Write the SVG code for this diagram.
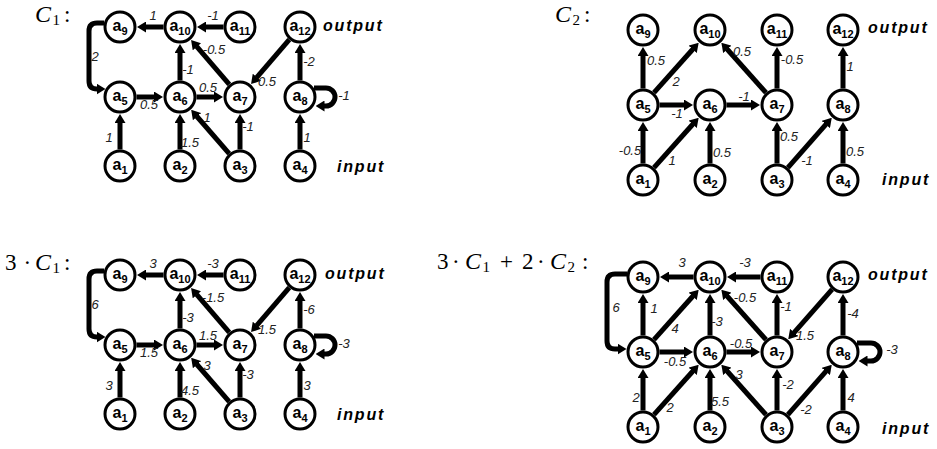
<svg xmlns="http://www.w3.org/2000/svg" width="937" height="449" viewBox="0 0 937 449">
  <defs>
    <style>
      .node circle { fill: #fff; stroke: #000; stroke-width: 3; }
      .node text { font-family: "Liberation Sans", Arial, sans-serif; font-weight: bold; font-size: 16px; text-anchor: middle; fill: #000; }
      .node tspan { font-size: 11px; }
      .edge { fill: none; stroke: #000; stroke-width: 5; marker-end: url(#arrow); }
      .wt { font-family: "Liberation Sans", Arial, sans-serif; font-style: italic; font-size: 13px; text-anchor: middle; fill: #222; }
      .io { font-family: "Liberation Sans", Arial, sans-serif; font-weight: bold; font-style: italic; font-size: 16px; letter-spacing: 1.8px; fill: #000; }
      .math { font-family: "Liberation Serif", "Times New Roman", serif; font-size: 23px; fill: #000; }
      .math .v { font-style: italic; font-size: 24px; }
      .math .s { font-size: 15px; }
    </style>
    <marker id="arrow" viewBox="0 0 9 11" refX="0.5" refY="5.5" markerWidth="9" markerHeight="11" markerUnits="userSpaceOnUse" orient="auto">
      <path d="M0,0 L9,5.5 L0,11 Z" fill="#000"/>
    </marker>
  </defs>
  <rect width="937" height="449" fill="#fff"/>

  <!-- ===== C1 ===== -->
  <g id="c1">
    <text class="math" y="22"><tspan class="v" x="35">C</tspan><tspan class="s" x="52.5" y="25">1</tspan><tspan x="64" y="22">:</tspan></text>
    <g id="c1-edges">
      <path class="edge" d="M163.5,27 H145.5"/>
      <path class="edge" d="M223.5,27 H205.5"/>
      <path class="edge" d="M104,23 H97 Q89,23 89,31 V81 Q89,89 97,89"/>
      <path class="edge" d="M180,80.5 V52.5"/>
      <path class="edge" d="M229.26,84.47 L196.6,46.36"/>
      <path class="edge" d="M289.26,39.53 L256.6,77.64"/>
      <path class="edge" d="M300,80.5 V52.5"/>
      <path class="edge" d="M314,88 H326 A9,9 0 0 1 326,106 H324"/>
      <path class="edge" d="M136.5,97 H154.5"/>
      <path class="edge" d="M196.5,97 H214.5"/>
      <path class="edge" d="M120,149.5 V122.5"/>
      <path class="edge" d="M180,149.5 V122.5"/>
      <path class="edge" d="M229.17,153.55 L196.73,116.24"/>
      <path class="edge" d="M240,149.5 V122.5"/>
      <path class="edge" d="M300,149.5 V122.5"/>
    </g>
    <g id="c1-weights">
      <text class="wt" x="153" y="20">1</text>
      <text class="wt" x="213" y="20">-1</text>
      <text class="wt" x="95" y="61">2</text>
      <text class="wt" x="188" y="74">-1</text>
      <text class="wt" x="214" y="54">-0.5</text>
      <text class="wt" x="267" y="86">0.5</text>
      <text class="wt" x="309" y="66">-2</text>
      <text class="wt" x="344" y="100">-1</text>
      <text class="wt" x="149" y="109">0.5</text>
      <text class="wt" x="208" y="92">0.5</text>
      <text class="wt" x="109" y="142">1</text>
      <text class="wt" x="190" y="147">1.5</text>
      <text class="wt" x="207" y="122">1</text>
      <text class="wt" x="248" y="131">-1</text>
      <text class="wt" x="307" y="142">1</text>
    </g>
    <g id="c1-a9" class="node"><circle cx="120" cy="27" r="15"/><text x="120" y="30.5">a<tspan dy="4">9</tspan></text></g>
    <g id="c1-a10" class="node"><circle cx="180" cy="27" r="15"/><text x="180" y="30.5">a<tspan dy="4">10</tspan></text></g>
    <g id="c1-a11" class="node"><circle cx="240" cy="27" r="15"/><text x="240" y="30.5">a<tspan dy="4">11</tspan></text></g>
    <g id="c1-a12" class="node"><circle cx="300" cy="27" r="15"/><text x="300" y="30.5">a<tspan dy="4">12</tspan></text></g>
    <g id="c1-a5" class="node"><circle cx="120" cy="97" r="15"/><text x="120" y="100.5">a<tspan dy="4">5</tspan></text></g>
    <g id="c1-a6" class="node"><circle cx="180" cy="97" r="15"/><text x="180" y="100.5">a<tspan dy="4">6</tspan></text></g>
    <g id="c1-a7" class="node"><circle cx="240" cy="97" r="15"/><text x="240" y="100.5">a<tspan dy="4">7</tspan></text></g>
    <g id="c1-a8" class="node"><circle cx="300" cy="97" r="15"/><text x="300" y="100.5">a<tspan dy="4">8</tspan></text></g>
    <g id="c1-a1" class="node"><circle cx="120" cy="166" r="15"/><text x="120" y="169.5">a<tspan dy="4">1</tspan></text></g>
    <g id="c1-a2" class="node"><circle cx="180" cy="166" r="15"/><text x="180" y="169.5">a<tspan dy="4">2</tspan></text></g>
    <g id="c1-a3" class="node"><circle cx="240" cy="166" r="15"/><text x="240" y="169.5">a<tspan dy="4">3</tspan></text></g>
    <g id="c1-a4" class="node"><circle cx="300" cy="166" r="15"/><text x="300" y="169.5">a<tspan dy="4">4</tspan></text></g>
    <text class="io" x="323" y="31">output</text>
    <text class="io" x="337" y="172">input</text>
  </g>

  <!-- ===== 3 · C1 ===== -->
  <text class="math" y="270"><tspan x="5">3</tspan><tspan x="23.5">·</tspan><tspan class="v" x="35">C</tspan><tspan class="s" x="52.5" y="273">1</tspan><tspan x="64" y="270">:</tspan></text>
  <g id="c1x3" transform="translate(0,248)">
    <g id="c1x3-edges">
      <path class="edge" d="M163.5,27 H145.5"/>
      <path class="edge" d="M223.5,27 H205.5"/>
      <path class="edge" d="M104,23 H97 Q89,23 89,31 V81 Q89,89 97,89"/>
      <path class="edge" d="M180,80.5 V52.5"/>
      <path class="edge" d="M229.26,84.47 L196.6,46.36"/>
      <path class="edge" d="M289.26,39.53 L256.6,77.64"/>
      <path class="edge" d="M300,80.5 V52.5"/>
      <path class="edge" d="M314,88 H326 A9,9 0 0 1 326,106 H324"/>
      <path class="edge" d="M136.5,97 H154.5"/>
      <path class="edge" d="M196.5,97 H214.5"/>
      <path class="edge" d="M120,149.5 V122.5"/>
      <path class="edge" d="M180,149.5 V122.5"/>
      <path class="edge" d="M229.17,153.55 L196.73,116.24"/>
      <path class="edge" d="M240,149.5 V122.5"/>
      <path class="edge" d="M300,149.5 V122.5"/>
    </g>
    <g id="c1x3-weights">
      <text class="wt" x="153" y="20">3</text>
      <text class="wt" x="213" y="20">-3</text>
      <text class="wt" x="95" y="61">6</text>
      <text class="wt" x="188" y="74">-3</text>
      <text class="wt" x="213" y="54">-1.5</text>
      <text class="wt" x="267" y="86">1.5</text>
      <text class="wt" x="309" y="66">-6</text>
      <text class="wt" x="344" y="100">-3</text>
      <text class="wt" x="149" y="109">1.5</text>
      <text class="wt" x="208" y="92">1.5</text>
      <text class="wt" x="109" y="142">3</text>
      <text class="wt" x="190" y="147">4.5</text>
      <text class="wt" x="207" y="122">3</text>
      <text class="wt" x="248" y="131">-3</text>
      <text class="wt" x="307" y="142">3</text>
    </g>
    <g id="c1x3-a9" class="node"><circle cx="120" cy="27" r="15"/><text x="120" y="30.5">a<tspan dy="4">9</tspan></text></g>
    <g id="c1x3-a10" class="node"><circle cx="180" cy="27" r="15"/><text x="180" y="30.5">a<tspan dy="4">10</tspan></text></g>
    <g id="c1x3-a11" class="node"><circle cx="240" cy="27" r="15"/><text x="240" y="30.5">a<tspan dy="4">11</tspan></text></g>
    <g id="c1x3-a12" class="node"><circle cx="300" cy="27" r="15"/><text x="300" y="30.5">a<tspan dy="4">12</tspan></text></g>
    <g id="c1x3-a5" class="node"><circle cx="120" cy="97" r="15"/><text x="120" y="100.5">a<tspan dy="4">5</tspan></text></g>
    <g id="c1x3-a6" class="node"><circle cx="180" cy="97" r="15"/><text x="180" y="100.5">a<tspan dy="4">6</tspan></text></g>
    <g id="c1x3-a7" class="node"><circle cx="240" cy="97" r="15"/><text x="240" y="100.5">a<tspan dy="4">7</tspan></text></g>
    <g id="c1x3-a8" class="node"><circle cx="300" cy="97" r="15"/><text x="300" y="100.5">a<tspan dy="4">8</tspan></text></g>
    <g id="c1x3-a1" class="node"><circle cx="120" cy="166" r="15"/><text x="120" y="169.5">a<tspan dy="4">1</tspan></text></g>
    <g id="c1x3-a2" class="node"><circle cx="180" cy="166" r="15"/><text x="180" y="169.5">a<tspan dy="4">2</tspan></text></g>
    <g id="c1x3-a3" class="node"><circle cx="240" cy="166" r="15"/><text x="240" y="169.5">a<tspan dy="4">3</tspan></text></g>
    <g id="c1x3-a4" class="node"><circle cx="300" cy="166" r="15"/><text x="300" y="169.5">a<tspan dy="4">4</tspan></text></g>
    <text class="io" x="325" y="31">output</text>
    <text class="io" x="337" y="172">input</text>
  </g>

  <!-- ===== C2 ===== -->
  <g id="c2">
    <text class="math" y="22"><tspan class="v" x="555">C</tspan><tspan class="s" x="572.5" y="25">2</tspan><tspan x="584" y="22">:</tspan></text>
    <g id="c2-edges">
      <path class="edge" d="M643,88.5 V55.5"/>
      <path class="edge" d="M653.99,92.7 L693.01,49.02"/>
      <path class="edge" d="M766.01,92.7 L726.99,49.02"/>
      <path class="edge" d="M777,88.5 V55.5"/>
      <path class="edge" d="M843,88.5 V55.5"/>
      <path class="edge" d="M659.5,105 H684.5"/>
      <path class="edge" d="M726.5,105 H751.5"/>
      <path class="edge" d="M643,163.5 V130.5"/>
      <path class="edge" d="M653.99,167.7 L693.01,124.02"/>
      <path class="edge" d="M710,163.5 V130.5"/>
      <path class="edge" d="M777,163.5 V130.5"/>
      <path class="edge" d="M787.9,167.61 L826.15,124.14"/>
      <path class="edge" d="M843,163.5 V130.5"/>
    </g>
    <g id="c2-weights">
      <text class="wt" x="656" y="65">0.5</text>
      <text class="wt" x="676" y="86">2</text>
      <text class="wt" x="742" y="56">0.5</text>
      <text class="wt" x="792" y="64">-0.5</text>
      <text class="wt" x="850" y="71">1</text>
      <text class="wt" x="677" y="118">-1</text>
      <text class="wt" x="744" y="101">-1</text>
      <text class="wt" x="630" y="155">-0.5</text>
      <text class="wt" x="672" y="165">1</text>
      <text class="wt" x="722" y="157">0.5</text>
      <text class="wt" x="789" y="141">0.5</text>
      <text class="wt" x="807" y="165">-1</text>
      <text class="wt" x="855" y="156">0.5</text>
    </g>
    <g id="c2-a9" class="node"><circle cx="643" cy="30" r="15"/><text x="643" y="33.5">a<tspan dy="4">9</tspan></text></g>
    <g id="c2-a10" class="node"><circle cx="710" cy="30" r="15"/><text x="710" y="33.5">a<tspan dy="4">10</tspan></text></g>
    <g id="c2-a11" class="node"><circle cx="777" cy="30" r="15"/><text x="777" y="33.5">a<tspan dy="4">11</tspan></text></g>
    <g id="c2-a12" class="node"><circle cx="843" cy="30" r="15"/><text x="843" y="33.5">a<tspan dy="4">12</tspan></text></g>
    <g id="c2-a5" class="node"><circle cx="643" cy="105" r="15"/><text x="643" y="108.5">a<tspan dy="4">5</tspan></text></g>
    <g id="c2-a6" class="node"><circle cx="710" cy="105" r="15"/><text x="710" y="108.5">a<tspan dy="4">6</tspan></text></g>
    <g id="c2-a7" class="node"><circle cx="777" cy="105" r="15"/><text x="777" y="108.5">a<tspan dy="4">7</tspan></text></g>
    <g id="c2-a8" class="node"><circle cx="843" cy="105" r="15"/><text x="843" y="108.5">a<tspan dy="4">8</tspan></text></g>
    <g id="c2-a1" class="node"><circle cx="643" cy="180" r="15"/><text x="643" y="183.5">a<tspan dy="4">1</tspan></text></g>
    <g id="c2-a2" class="node"><circle cx="710" cy="180" r="15"/><text x="710" y="183.5">a<tspan dy="4">2</tspan></text></g>
    <g id="c2-a3" class="node"><circle cx="777" cy="180" r="15"/><text x="777" y="183.5">a<tspan dy="4">3</tspan></text></g>
    <g id="c2-a4" class="node"><circle cx="843" cy="180" r="15"/><text x="843" y="183.5">a<tspan dy="4">4</tspan></text></g>
    <text class="io" x="868" y="33">output</text>
    <text class="io" x="882" y="185">input</text>
  </g>

  <!-- ===== 3 · C1 + 2 · C2 ===== -->
  <text class="math" y="269"><tspan x="437">3</tspan><tspan x="452">·</tspan><tspan class="v" x="465">C</tspan><tspan class="s" x="482.5" y="272">1</tspan><tspan x="500" y="269">+</tspan><tspan x="522">2</tspan><tspan x="537">·</tspan><tspan class="v" x="550">C</tspan><tspan class="s" x="567.5" y="272">2</tspan><tspan x="582" y="269">:</tspan></text>
  <g id="sum" transform="translate(0,247)">
    <g id="sum-edges">
      <path class="edge" d="M693.5,30 H668.5"/>
      <path class="edge" d="M760.5,30 H735.5"/>
      <path class="edge" d="M627,27 H615 Q607,27 607,35 V94 Q607,102 615,102 H618"/>
      <path class="edge" d="M643,88.5 V55.5"/>
      <path class="edge" d="M653.99,92.7 L693.01,49.02"/>
      <path class="edge" d="M710,88.5 V55.5"/>
      <path class="edge" d="M766.01,92.7 L726.99,49.02"/>
      <path class="edge" d="M777,88.5 V55.5"/>
      <path class="edge" d="M832.1,42.39 L793.85,85.86"/>
      <path class="edge" d="M843,88.5 V55.5"/>
      <path class="edge" d="M857,96 H871 A9,9 0 0 1 871,114 H867"/>
      <path class="edge" d="M659.5,105 H684.5"/>
      <path class="edge" d="M726.5,105 H751.5"/>
      <path class="edge" d="M643,163.5 V130.5"/>
      <path class="edge" d="M653.99,167.7 L693.01,124.02"/>
      <path class="edge" d="M710,163.5 V130.5"/>
      <path class="edge" d="M766.01,167.7 L726.99,124.02"/>
      <path class="edge" d="M777,163.5 V130.5"/>
      <path class="edge" d="M787.9,167.61 L826.15,124.14"/>
      <path class="edge" d="M843,163.5 V130.5"/>
    </g>
    <g id="sum-weights">
      <text class="wt" x="682" y="20">3</text>
      <text class="wt" x="745" y="20">-3</text>
      <text class="wt" x="616" y="65">6</text>
      <text class="wt" x="654" y="66">1</text>
      <text class="wt" x="675" y="86">4</text>
      <text class="wt" x="717" y="79">-3</text>
      <text class="wt" x="745" y="55">-0.5</text>
      <text class="wt" x="786" y="64">-1</text>
      <text class="wt" x="805" y="93">1.5</text>
      <text class="wt" x="853" y="71">-4</text>
      <text class="wt" x="892" y="107">-3</text>
      <text class="wt" x="675" y="119">-0.5</text>
      <text class="wt" x="741" y="101">-0.5</text>
      <text class="wt" x="636" y="155">2</text>
      <text class="wt" x="670" y="165">2</text>
      <text class="wt" x="720" y="159">5.5</text>
      <text class="wt" x="739" y="132">3</text>
      <text class="wt" x="788" y="142">-2</text>
      <text class="wt" x="806" y="167">-2</text>
      <text class="wt" x="851" y="155">4</text>
    </g>
    <g id="sum-a9" class="node"><circle cx="643" cy="30" r="15"/><text x="643" y="33.5">a<tspan dy="4">9</tspan></text></g>
    <g id="sum-a10" class="node"><circle cx="710" cy="30" r="15"/><text x="710" y="33.5">a<tspan dy="4">10</tspan></text></g>
    <g id="sum-a11" class="node"><circle cx="777" cy="30" r="15"/><text x="777" y="33.5">a<tspan dy="4">11</tspan></text></g>
    <g id="sum-a12" class="node"><circle cx="843" cy="30" r="15"/><text x="843" y="33.5">a<tspan dy="4">12</tspan></text></g>
    <g id="sum-a5" class="node"><circle cx="643" cy="105" r="15"/><text x="643" y="108.5">a<tspan dy="4">5</tspan></text></g>
    <g id="sum-a6" class="node"><circle cx="710" cy="105" r="15"/><text x="710" y="108.5">a<tspan dy="4">6</tspan></text></g>
    <g id="sum-a7" class="node"><circle cx="777" cy="105" r="15"/><text x="777" y="108.5">a<tspan dy="4">7</tspan></text></g>
    <g id="sum-a8" class="node"><circle cx="843" cy="105" r="15"/><text x="843" y="108.5">a<tspan dy="4">8</tspan></text></g>
    <g id="sum-a1" class="node"><circle cx="643" cy="180" r="15"/><text x="643" y="183.5">a<tspan dy="4">1</tspan></text></g>
    <g id="sum-a2" class="node"><circle cx="710" cy="180" r="15"/><text x="710" y="183.5">a<tspan dy="4">2</tspan></text></g>
    <g id="sum-a3" class="node"><circle cx="777" cy="180" r="15"/><text x="777" y="183.5">a<tspan dy="4">3</tspan></text></g>
    <g id="sum-a4" class="node"><circle cx="843" cy="180" r="15"/><text x="843" y="183.5">a<tspan dy="4">4</tspan></text></g>
    <text class="io" x="868" y="33">output</text>
    <text class="io" x="882" y="187">input</text>
  </g>
</svg>
